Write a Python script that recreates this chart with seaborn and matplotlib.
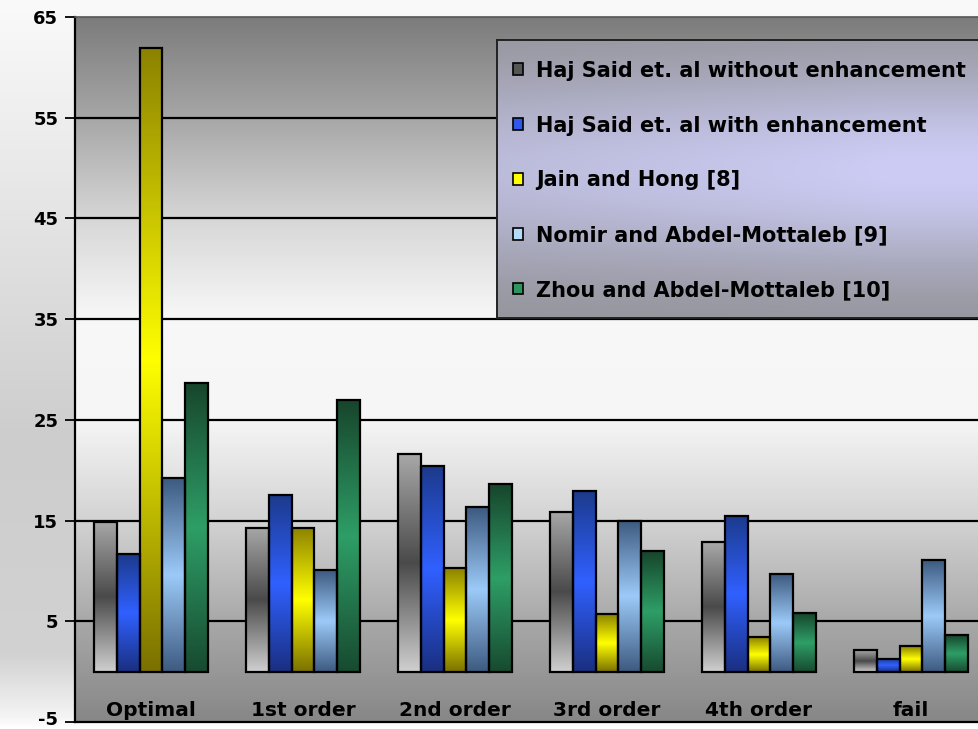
import numpy as np
import pandas as pd
import matplotlib
matplotlib.use("Agg")
import matplotlib.pyplot as plt
import matplotlib.transforms as mtransforms
from matplotlib.colors import LinearSegmentedColormap
from matplotlib.patches import Patch
import seaborn as sns

# ---- data -------------------------------------------------------------
categories = ["Optimal", "1st order", "2nd order", "3rd order", "4th order", "fail"]
methods = [
    "Haj Said et. al without enhancement",
    "Haj Said et. al with enhancement",
    "Jain and Hong [8]",
    "Nomir and Abdel-Mottaleb [9]",
    "Zhou and Abdel-Mottaleb [10]",
]
haj_without = [14.9, 14.3, 21.6, 15.9, 12.9, 2.1]
haj_with = [11.7, 17.5, 20.4, 17.9, 15.5, 1.3]
jain_hong = [61.9, 14.3, 10.3, 5.7, 3.4, 2.5]
nomir = [19.2, 10.1, 16.3, 15.0, 9.7, 11.1]
zhou = [28.7, 27.0, 18.6, 12.0, 5.8, 3.6]
y_ticks = [-5, 5, 15, 25, 35, 45, 55, 65]

series = [haj_without, haj_with, jain_hong, nomir, zhou]
df = pd.DataFrame(
    [(c, m, v) for m, vals in zip(methods, series) for c, v in zip(categories, vals)],
    columns=["category", "method", "value"],
)

# ---- styling ----------------------------------------------------------
sns.set_style("white")
plt.rcParams["font.family"] = ["DejaVu Sans"]
plt.rcParams["axes.unicode_minus"] = False
plt.rcParams["text.color"] = "black"

# legend / base colours and the top-middle-bottom shading of each bar
base_colors = ["#555555", "#3058e8", "#ffff00", "#b4dcf8", "#2e9460"]
bar_shades = [
    ("#a8a8a8", "#4a4a4a", "#d0d0d0"),
    ("#1c3a8c", "#3060ff", "#1a2f80"),
    ("#8c8200", "#ffff00", "#7a7000"),
    ("#3d5a80", "#9ccaf8", "#3d5a80"),
    ("#17452c", "#2e9e66", "#174a30"),
]

fig = plt.figure(figsize=(9.79, 7.29), dpi=100)

# soft grey backdrop behind everything
bg = fig.add_axes([0, 0, 1, 1], zorder=-10)
bg_cmap = LinearSegmentedColormap.from_list(
    "bg", [(0, "#fafafa"), (0.3, "#e4e4e4"), (0.6, "#cdcdcd"),
           (0.9, "#d2d2d2"), (0.985, "#f4f4f4"), (1.0, "#ffffff")])
bg.imshow(np.linspace(0, 1, 256).reshape(-1, 1), cmap=bg_cmap, aspect="auto",
          extent=[0, 1, 0, 1], origin="upper")
bg.set_axis_off()

ax = fig.add_axes([75 / 979, 7 / 729, 912 / 979, 705 / 729])
ax.patch.set_alpha(0)

sns.barplot(
    data=df, x="category", y="value", hue="method", order=categories,
    hue_order=methods, palette=base_colors, saturation=1, width=0.75,
    edgecolor="black", linewidth=1.6, legend=False, ax=ax, errorbar=None,
)

ax.set_xlim(-0.5, len(categories) - 0.5)
ax.set_ylim(y_ticks[0], y_ticks[-1])

# plot-area shading: grey at top and bottom, white in the middle
plot_cmap = LinearSegmentedColormap.from_list(
    "plot", [(0, "#7c7c7c"), (0.14, "#a6a6a6"), (0.29, "#d8d8d8"),
             (0.43, "#f8f8f8"), (0.57, "#f6f6f6"), (0.71, "#d4d4d4"),
             (0.86, "#a8a8a8"), (1.0, "#878787")])
ax.imshow(np.linspace(0, 1, 256).reshape(-1, 1), cmap=plot_cmap, aspect="auto",
          extent=[-0.5, len(categories) - 0.5, y_ticks[0], y_ticks[-1]],
          origin="upper", zorder=0)

# cylinder-like shading inside every bar
grad = np.linspace(0, 1, 256).reshape(-1, 1)
for cont, shade in zip(ax.containers, bar_shades):
    cmap = LinearSegmentedColormap.from_list("bar", list(shade))
    for bar in cont:
        x0, y0 = bar.get_x(), bar.get_y()
        w, h = bar.get_width(), bar.get_height()
        im = ax.imshow(grad, cmap=cmap, aspect="auto", origin="upper",
                       extent=[x0, x0 + w, y0, y0 + h], zorder=2,
                       interpolation="bilinear")
        im.set_clip_path(bar)
        bar.set_facecolor("none")
        bar.set_zorder(3)

ax.set_xlim(-0.5, len(categories) - 0.5)
ax.set_ylim(y_ticks[0], y_ticks[-1])

# horizontal grid lines
for yv in y_ticks[1:-1]:
    ax.axhline(yv, color="black", lw=1.6, zorder=1)

ax.set_yticks(y_ticks)
ax.set_yticklabels([str(v) for v in y_ticks], fontsize=13, fontweight="heavy")
ax.tick_params(axis="y", length=7.5, width=1.3, pad=4.5, colors="black", left=True)
ax.set_xticks(range(len(categories)))
ax.set_xticklabels([])
ax.tick_params(axis="x", length=0)
ax.set_xlabel("")
ax.set_ylabel("")

# keep the lowest tick label clear of the figure edge
low = ax.yaxis.get_major_ticks()[0].label1
low.set_transform(low.get_transform()
                  + mtransforms.ScaledTranslation(0, 3 / 72, fig.dpi_scale_trans))

# category names sit inside the plot, under the zero line
for i, name in enumerate(categories):
    ax.text(i, -3.9, name, ha="center", va="center", fontsize=14.5,
            fontweight="bold", color="black", zorder=5)

for side in ["left", "bottom"]:
    ax.spines[side].set_color("black")
    ax.spines[side].set_linewidth(1.6)
ax.spines["top"].set_color("#555555")
ax.spines["top"].set_linewidth(1.2)
ax.spines["right"].set_visible(False)

# legend panel with its own grey-lavender shading
lax = ax.inset_axes([0.4627, 0.573, 0.5373, 0.3944], zorder=6)
ly = np.linspace(0, 1, 200)
lx = np.linspace(0, 1, 300)
vert = np.exp(-((ly - 0.47) / 0.36) ** 2)[:, None]
horiz = np.clip(0.72 + 0.35 * lx, 0, 1)[None, :]
mix = vert * horiz
grey = np.array([0.57, 0.57, 0.59])
lav = np.array([0.80, 0.80, 0.96])
panel = grey[None, None, :] + mix[:, :, None] * (lav - grey)[None, None, :]
lax.imshow(panel, aspect="auto", extent=[0, 1, 0, 1], origin="upper")
lax.set_xticks([])
lax.set_yticks([])
for side in lax.spines.values():
    side.set_color("#222222")
    side.set_linewidth(1.4)
lax.spines["right"].set_visible(False)

handles = [Patch(facecolor=c, edgecolor="black", linewidth=1.2) for c in base_colors]
leg = ax.legend(
    handles, methods, loc="upper left", bbox_to_anchor=(0.4803, 0.938),
    frameon=False, borderaxespad=0, borderpad=0, handlelength=0.5,
    handleheight=0.5, handletextpad=0.6, labelspacing=1.67,
    prop={"weight": "bold", "size": 15},
)
for t in leg.get_texts():
    t.set_color("black")
leg.set_zorder(7)

fig.savefig("out.png", dpi=100)
